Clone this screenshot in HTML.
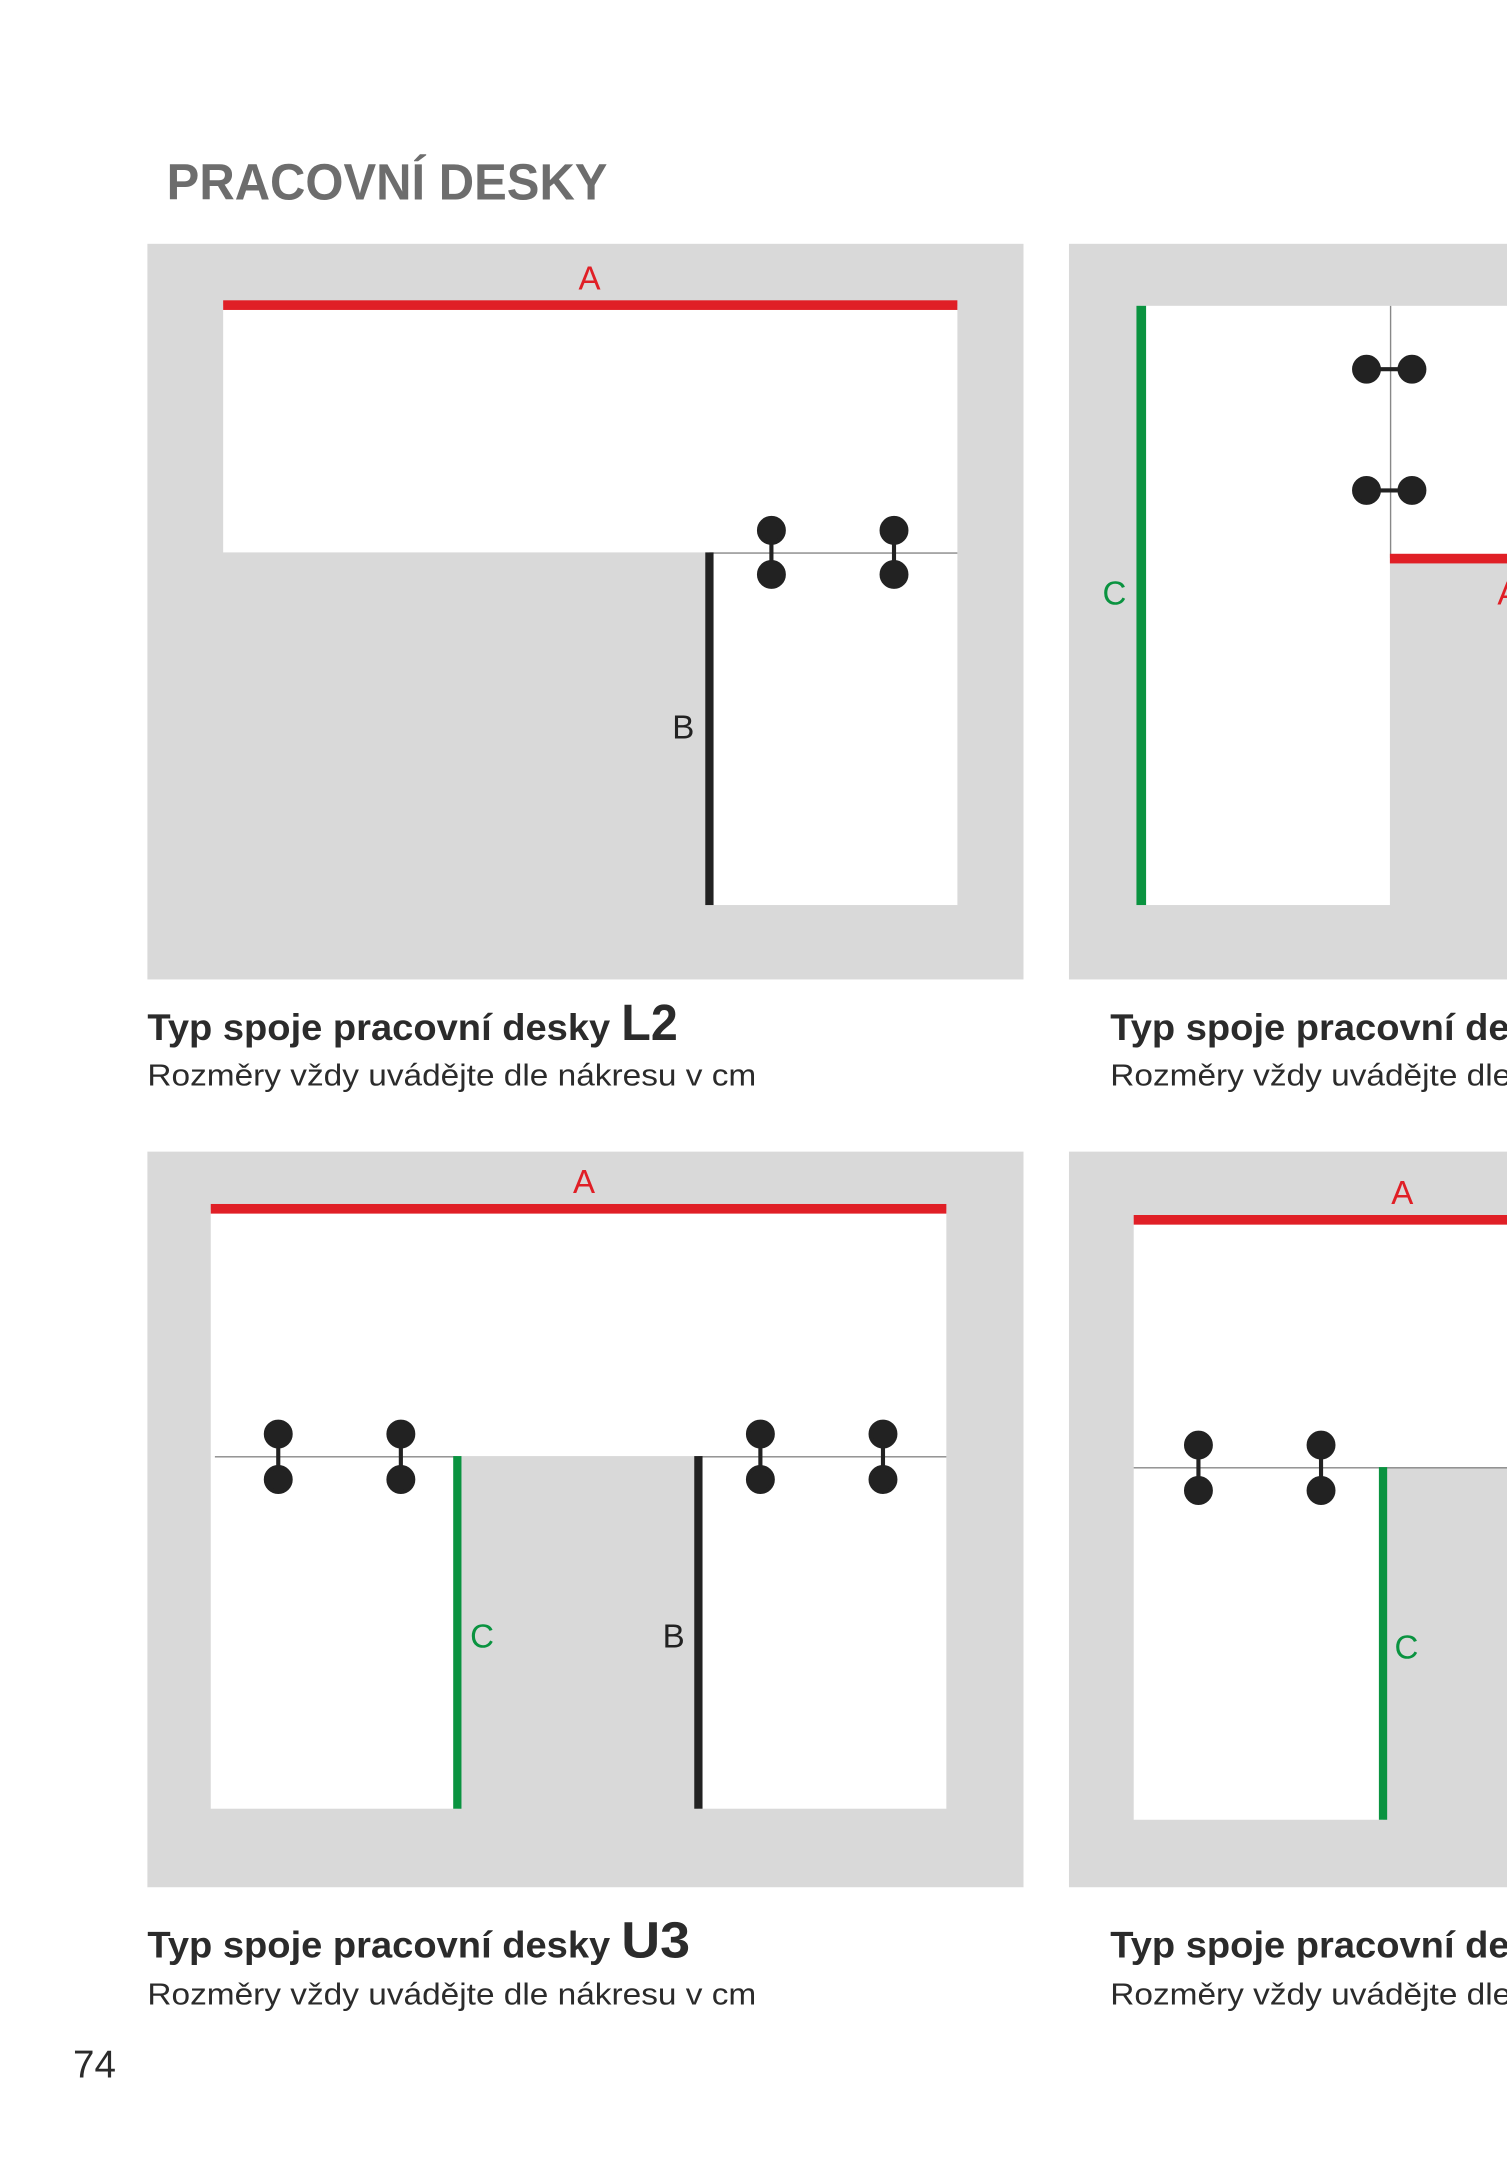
<!DOCTYPE html>
<html><head><meta charset="utf-8"><style>
html,body{margin:0;padding:0;background:#fff;}
svg{display:block;}
text{font-family:"Liberation Sans",sans-serif;}
</style></head><body>
<svg width="1507" height="2160" viewBox="0 0 1094 1568" preserveAspectRatio="none" xmlns="http://www.w3.org/2000/svg">
<rect width="1094" height="1568" fill="#fff"/>
<text x="121" y="145" font-size="37" font-weight="bold" fill="#6d6d6d" textLength="320" lengthAdjust="spacingAndGlyphs">PRACOVNÍ DESKY</text>

<!-- Panel 1 L2 -->
<rect x="107" y="177" width="636" height="534" fill="#d9d9d9"/>
<rect x="162" y="222" width="533" height="179" fill="#fff"/>
<rect x="515" y="401" width="180" height="256" fill="#fff"/>
<rect x="162" y="218" width="533" height="7" fill="#e01f26"/>
<text x="428" y="210" font-size="24" fill="#e01f26" text-anchor="middle">A</text>
<line x1="515" y1="401.5" x2="695" y2="401.5" stroke="#888" stroke-width="1"/>
<rect x="512" y="401" width="6" height="256" fill="#222"/>
<text x="496" y="536" font-size="24" fill="#222" text-anchor="middle">B</text>
<g fill="#222" stroke="#222" stroke-width="3">
<line x1="560" y1="385" x2="560" y2="417"/><circle cx="560" cy="385" r="9"/><circle cx="560" cy="417" r="9"/>
<line x1="649" y1="385" x2="649" y2="417"/><circle cx="649" cy="385" r="9"/><circle cx="649" cy="417" r="9"/>
</g>

<!-- Panel 2 -->
<rect x="776" y="177" width="330" height="534" fill="#d9d9d9"/>
<rect x="828" y="222" width="181" height="435" fill="#fff"/>
<rect x="1009" y="222" width="90" height="183" fill="#fff"/>
<line x1="1009.5" y1="222" x2="1009.5" y2="405" stroke="#888" stroke-width="1"/>
<rect x="1009" y="402" width="90" height="7" fill="#e01f26"/>
<rect x="825" y="222" width="7" height="435" fill="#0a9340"/>
<text x="809" y="439" font-size="24" fill="#0a9340" text-anchor="middle">C</text>
<text x="1087" y="439" font-size="24" fill="#e01f26">A</text>
<g fill="#222" stroke="#222" stroke-width="3">
<line x1="992" y1="268" x2="1025" y2="268"/><circle cx="992" cy="268" r="9"/><circle cx="1025" cy="268" r="9"/>
<line x1="992" y1="356" x2="1025" y2="356"/><circle cx="992" cy="356" r="9"/><circle cx="1025" cy="356" r="9"/>
</g>

<text x="107" y="755" font-size="27" font-weight="bold" fill="#2b2b2b" textLength="336" lengthAdjust="spacingAndGlyphs">Typ spoje pracovní desky</text>
<text x="451" y="755" font-size="37" font-weight="bold" fill="#2b2b2b" textLength="41" lengthAdjust="spacingAndGlyphs">L2</text>
<text x="107" y="788" font-size="22" fill="#2b2b2b" textLength="442" lengthAdjust="spacingAndGlyphs">Rozměry vždy uvádějte dle nákresu v cm</text>
<text x="806" y="755" font-size="27" font-weight="bold" fill="#2b2b2b" textLength="336" lengthAdjust="spacingAndGlyphs">Typ spoje pracovní desky</text>
<text x="806" y="788" font-size="22" fill="#2b2b2b" textLength="442" lengthAdjust="spacingAndGlyphs">Rozměry vždy uvádějte dle nákresu v cm</text>

<!-- Panel 3 U3 -->
<rect x="107" y="836" width="636" height="534" fill="#d9d9d9"/>
<rect x="153" y="878" width="534" height="179" fill="#fff"/>
<rect x="153" y="1057" width="179" height="256" fill="#fff"/>
<rect x="507" y="1057" width="180" height="256" fill="#fff"/>
<rect x="153" y="874" width="534" height="7" fill="#e01f26"/>
<text x="424" y="866" font-size="24" fill="#e01f26" text-anchor="middle">A</text>
<line x1="156" y1="1057.5" x2="332" y2="1057.5" stroke="#888" stroke-width="1"/>
<line x1="507" y1="1057.5" x2="687" y2="1057.5" stroke="#888" stroke-width="1"/>
<rect x="329" y="1057" width="6" height="256" fill="#0a9340"/>
<rect x="504" y="1057" width="6" height="256" fill="#222"/>
<text x="350" y="1196" font-size="24" fill="#0a9340" text-anchor="middle">C</text>
<text x="489" y="1196" font-size="24" fill="#222" text-anchor="middle">B</text>
<g fill="#222" stroke="#222" stroke-width="3">
<line x1="202" y1="1041" x2="202" y2="1074"/><circle cx="202" cy="1041" r="9"/><circle cx="202" cy="1074" r="9"/>
<line x1="291" y1="1041" x2="291" y2="1074"/><circle cx="291" cy="1041" r="9"/><circle cx="291" cy="1074" r="9"/>
<line x1="552" y1="1041" x2="552" y2="1074"/><circle cx="552" cy="1041" r="9"/><circle cx="552" cy="1074" r="9"/>
<line x1="641" y1="1041" x2="641" y2="1074"/><circle cx="641" cy="1041" r="9"/><circle cx="641" cy="1074" r="9"/>
</g>

<!-- Panel 4 -->
<rect x="776" y="836" width="330" height="534" fill="#d9d9d9"/>
<rect x="823" y="885" width="280" height="180" fill="#fff"/>
<rect x="823" y="1065" width="181" height="256" fill="#fff"/>
<rect x="823" y="882" width="280" height="7" fill="#e01f26"/>
<text x="1018" y="874" font-size="24" fill="#e01f26" text-anchor="middle">A</text>
<line x1="823" y1="1065.5" x2="1100" y2="1065.5" stroke="#888" stroke-width="1"/>
<rect x="1001" y="1065" width="6" height="256" fill="#0a9340"/>
<text x="1021" y="1204" font-size="24" fill="#0a9340" text-anchor="middle">C</text>
<g fill="#222" stroke="#222" stroke-width="3">
<line x1="870" y1="1049" x2="870" y2="1082"/><circle cx="870" cy="1049" r="9"/><circle cx="870" cy="1082" r="9"/>
<line x1="959" y1="1049" x2="959" y2="1082"/><circle cx="959" cy="1049" r="9"/><circle cx="959" cy="1082" r="9"/>
</g>

<text x="107" y="1421" font-size="27" font-weight="bold" fill="#2b2b2b" textLength="336" lengthAdjust="spacingAndGlyphs">Typ spoje pracovní desky</text>
<text x="451" y="1421" font-size="37" font-weight="bold" fill="#2b2b2b" textLength="50" lengthAdjust="spacingAndGlyphs">U3</text>
<text x="107" y="1455" font-size="22" fill="#2b2b2b" textLength="442" lengthAdjust="spacingAndGlyphs">Rozměry vždy uvádějte dle nákresu v cm</text>
<text x="806" y="1421" font-size="27" font-weight="bold" fill="#2b2b2b" textLength="336" lengthAdjust="spacingAndGlyphs">Typ spoje pracovní desky</text>
<text x="806" y="1455" font-size="22" fill="#2b2b2b" textLength="442" lengthAdjust="spacingAndGlyphs">Rozměry vždy uvádějte dle nákresu v cm</text>

<text x="53" y="1508" font-size="28" fill="#2b2b2b">74</text>
</svg>
</body></html>
